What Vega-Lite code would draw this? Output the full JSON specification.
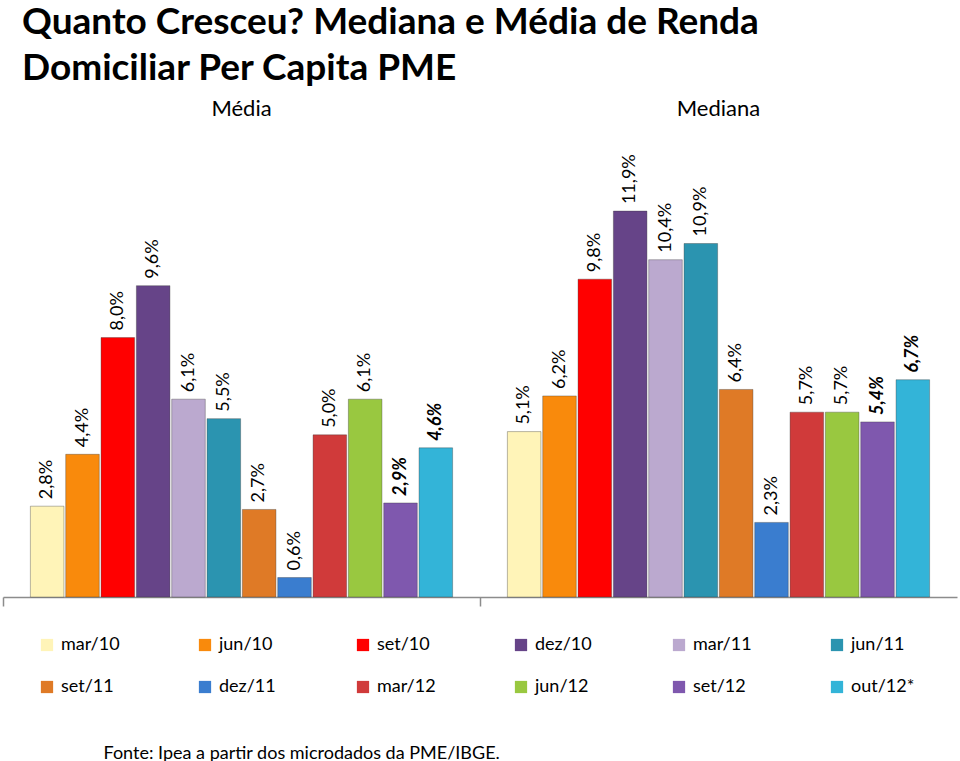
{
  "$schema": "https://vega.github.io/schema/vega-lite/v6.json",
  "autosize": {"type": "none"},
  "width": 954,
  "height": 467,
  "padding": {"left": 3, "top": 130, "right": 3, "bottom": 164},
  "background": "white",
  "title": {
    "text": ["Quanto Cresceu? Mediana e Média de Renda", "Domiciliar Per Capita PME"],
    "anchor": "start",
    "frame": "group",
    "font": "Lato",
    "fontSize": 37,
    "fontWeight": "bold",
    "color": "#000000",
    "lineHeight": 46,
    "dx": 19,
    "offset": 9
  },
  "data": {
    "values": [
      {"grupo": "Média", "periodo": "mar/10", "valor": 2.8, "rotulo": "2,8%"},
      {"grupo": "Média", "periodo": "jun/10", "valor": 4.4, "rotulo": "4,4%"},
      {"grupo": "Média", "periodo": "set/10", "valor": 8.0, "rotulo": "8,0%"},
      {"grupo": "Média", "periodo": "dez/10", "valor": 9.6, "rotulo": "9,6%"},
      {"grupo": "Média", "periodo": "mar/11", "valor": 6.1, "rotulo": "6,1%"},
      {"grupo": "Média", "periodo": "jun/11", "valor": 5.5, "rotulo": "5,5%"},
      {"grupo": "Média", "periodo": "set/11", "valor": 2.7, "rotulo": "2,7%"},
      {"grupo": "Média", "periodo": "dez/11", "valor": 0.6, "rotulo": "0,6%"},
      {"grupo": "Média", "periodo": "mar/12", "valor": 5.0, "rotulo": "5,0%"},
      {"grupo": "Média", "periodo": "jun/12", "valor": 6.1, "rotulo": "6,1%"},
      {"grupo": "Média", "periodo": "set/12", "valor": 2.9, "rotulo": "2,9%"},
      {"grupo": "Média", "periodo": "out/12*", "valor": 4.6, "rotulo": "4,6%"},
      {"grupo": "Mediana", "periodo": "mar/10", "valor": 5.1, "rotulo": "5,1%"},
      {"grupo": "Mediana", "periodo": "jun/10", "valor": 6.2, "rotulo": "6,2%"},
      {"grupo": "Mediana", "periodo": "set/10", "valor": 9.8, "rotulo": "9,8%"},
      {"grupo": "Mediana", "periodo": "dez/10", "valor": 11.9, "rotulo": "11,9%"},
      {"grupo": "Mediana", "periodo": "mar/11", "valor": 10.4, "rotulo": "10,4%"},
      {"grupo": "Mediana", "periodo": "jun/11", "valor": 10.9, "rotulo": "10,9%"},
      {"grupo": "Mediana", "periodo": "set/11", "valor": 6.4, "rotulo": "6,4%"},
      {"grupo": "Mediana", "periodo": "dez/11", "valor": 2.3, "rotulo": "2,3%"},
      {"grupo": "Mediana", "periodo": "mar/12", "valor": 5.7, "rotulo": "5,7%"},
      {"grupo": "Mediana", "periodo": "jun/12", "valor": 5.7, "rotulo": "5,7%"},
      {"grupo": "Mediana", "periodo": "set/12", "valor": 5.4, "rotulo": "5,4%"},
      {"grupo": "Mediana", "periodo": "out/12*", "valor": 6.7, "rotulo": "6,7%"}
    ]
  },
  "encoding": {
    "x": {
      "field": "grupo",
      "type": "nominal",
      "sort": ["Média", "Mediana"],
      "scale": {"paddingInner": 0, "paddingOuter": 0},
      "axis": null
    },
    "xOffset": {
      "field": "periodo",
      "type": "nominal",
      "sort": ["mar/10", "jun/10", "set/10", "dez/10", "mar/11", "jun/11", "set/11", "dez/11", "mar/12", "jun/12", "set/12", "out/12*"],
      "scale": {"paddingInner": 0.05, "paddingOuter": 0.775}
    },
    "y": {
      "field": "valor",
      "type": "quantitative",
      "scale": {"domain": [0, 14.4], "nice": false, "zero": true},
      "axis": null
    }
  },
  "layer": [
    {
      "mark": {"type": "bar", "strokeWidth": 1, "strokeOpacity": 0.35, "stroke": "#333333"},
      "encoding": {
        "x": {
          "field": "grupo",
          "type": "nominal",
          "sort": ["Média", "Mediana"],
          "axis": {
            "orient": "top",
            "title": null,
            "domain": false,
            "ticks": false,
            "labelAngle": 0,
            "labelFont": "Lato",
            "labelFontSize": 22,
            "labelColor": "#000000",
            "labelPadding": 10
          }
        },
        "color": {
          "field": "periodo",
          "type": "nominal",
          "sort": ["mar/10", "jun/10", "set/10", "dez/10", "mar/11", "jun/11", "set/11", "dez/11", "mar/12", "jun/12", "set/12", "out/12*"],
          "scale": {
            "domain": ["mar/10", "jun/10", "set/10", "dez/10", "mar/11", "jun/11", "set/11", "dez/11", "mar/12", "jun/12", "set/12", "out/12*"],
            "range": ["#FFF4B8", "#F98A0C", "#FF0000", "#664488", "#BBA9CF", "#2B94B0", "#DF7A26", "#3A7DCF", "#D03A3A", "#99C840", "#7F58AE", "#33B4D8"]
          },
          "legend": {
            "title": null,
            "orient": "none",
            "legendX": 35,
            "legendY": 506,
            "direction": "horizontal",
            "columns": 6,
            "gridAlign": "all",
            "columnPadding": 71,
            "rowPadding": 24,
            "symbolType": "square",
            "symbolSize": 150,
            "symbolStrokeWidth": 0,
            "symbolOpacity": 1,
            "labelFont": "Lato",
            "labelFontSize": 18,
            "labelColor": "#000000",
            "labelOffset": 5
          }
        }
      }
    },
    {
      "mark": {"type": "text", "angle": 270, "align": "left", "baseline": "middle", "dx": 7, "font": "Lato", "fontSize": 18, "color": "#000000"},
      "transform": [{"filter": "datum.periodo != 'set/12' && datum.periodo != 'out/12*'"}],
      "encoding": {
        "text": {"field": "rotulo", "type": "nominal"},
        "x": {
          "field": "grupo",
          "type": "nominal",
          "sort": ["Média", "Mediana"],
          "axis": {
            "orient": "bottom",
            "labels": false,
            "domain": true,
            "domainColor": "#8C8C8C",
            "domainWidth": 1.5,
            "ticks": true,
            "tickColor": "#8C8C8C",
            "tickWidth": 1.5,
            "tickSize": 9,
            "bandPosition": 0,
            "title": "Fonte: Ipea a partir dos microdados da PME/IBGE.",
            "titleFont": "Lato",
            "titleFontSize": 18,
            "titleFontWeight": "normal",
            "titleColor": "#000000",
            "titleAnchor": "start",
            "titleAlign": "left",
            "titleBaseline": "alphabetic",
            "titleX": 100,
            "titleY": 161
          }
        }
      }
    },
    {
      "mark": {"type": "text", "angle": 270, "align": "left", "baseline": "middle", "dx": 7, "font": "Lato", "fontSize": 18, "fontWeight": "bold", "fontStyle": "italic", "color": "#000000"},
      "transform": [{"filter": "datum.periodo == 'set/12' || datum.periodo == 'out/12*'"}],
      "encoding": {
        "text": {"field": "rotulo", "type": "nominal"}
      }
    }
  ],
  "resolve": {"axis": {"x": "independent"}},
  "config": {"view": {"stroke": null}}
}
